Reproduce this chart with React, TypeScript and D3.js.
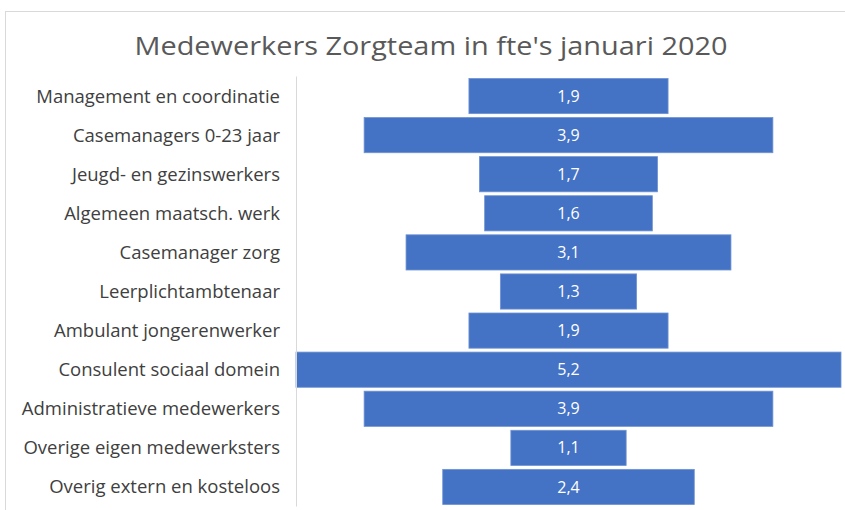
import * as d3 from "d3";

const categories = [
  "Management en coordinatie",
  "Casemanagers 0-23 jaar",
  "Jeugd- en gezinswerkers",
  "Algemeen maatsch. werk",
  "Casemanager zorg",
  "Leerplichtambtenaar",
  "Ambulant jongerenwerker",
  "Consulent sociaal domein",
  "Administratieve medewerkers",
  "Overige eigen medewerksters",
  "Overig extern en kosteloos",
];
const values = [1.9, 3.9, 1.7, 1.6, 3.1, 1.3, 1.9, 5.2, 3.9, 1.1, 2.4];

const W = 845;
const H = 510;
const font = "'Open Sans', sans-serif";

export default function App() {
  const maxV = d3.max(values) as number;
  const x = d3.scaleLinear().domain([-maxV / 2, maxV / 2]).range([296, 841]);
  const y = d3.scaleBand().domain(categories).range([76.5, 506.5]).paddingInner(0.1).paddingOuter(0.05);
  const fmt = (v: number) => v.toFixed(1).replace(".", ",");

  return (
    <svg width={W} height={H} style={{ position: "absolute", left: 0, top: 0, background: "#fff" }}>
      <rect x={5.5} y={11.5} width={W} height={H} fill="#fff" stroke="#d9d9d9" />
      <text x={431} y={55} textAnchor="middle" fontFamily={font} fontSize={25} fill="#595959" textLength={593} lengthAdjust="spacingAndGlyphs">
        Medewerkers Zorgteam in fte's januari 2020
      </text>
      {categories.map((c, i) => {
        const v = values[i];
        const y0 = y(c) as number;
        const bw = y.bandwidth();
        return (
          <g key={c}>
            <rect x={x(-v / 2)} y={y0} width={x(v / 2) - x(-v / 2)} height={bw} fill="#4472c4" stroke="#6f93d3" strokeWidth={0.8} />
            <text x={(x(-v / 2) + x(v / 2)) / 2} y={y0 + bw / 2} dy="0.35em" textAnchor="middle" fontFamily={font} fontSize={16} fill="#fff">
              {fmt(v)}
            </text>
            <text x={280} y={y0 + bw / 2} dy="0.35em" textAnchor="end" fontFamily={font} fontSize={18.5} fill="#404040">
              {c}
            </text>
          </g>
        );
      })}
      <line x1={296.5} x2={296.5} y1={y.range()[0]} y2={y.range()[1]} stroke="#d9d9d9" />
    </svg>
  );
}
